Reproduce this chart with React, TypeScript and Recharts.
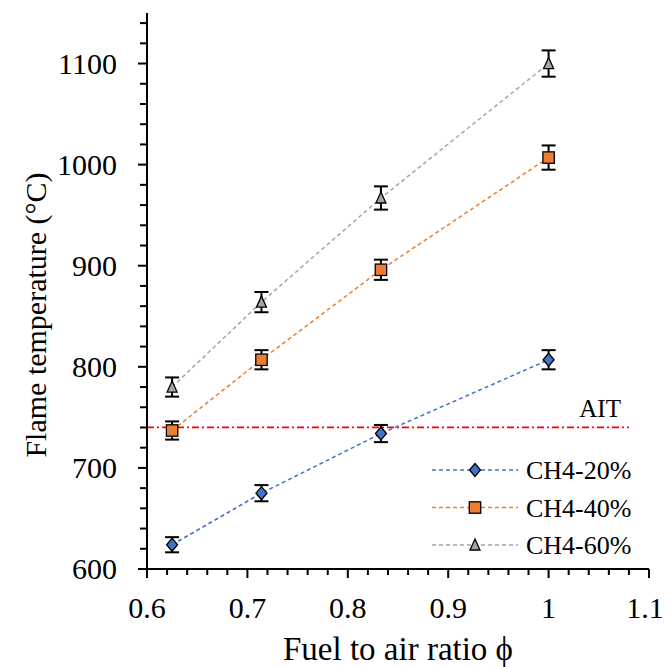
import React from "react";
import {
  ComposedChart,
  Line,
  XAxis,
  YAxis,
  ErrorBar,
  ReferenceLine,
  Legend
} from "recharts";

const FONT = "'Liberation Serif', 'Times New Roman', serif";

// equivalence ratio values on the x axis
const phiValues = [0.625, 0.714, 0.833, 1.0];

const ch4_20 = [624, 675, 734, 807];
const ch4_20Err = [7.5, 8, 8.5, 9.5];
const ch4_40 = [737, 807, 896, 1007];
const ch4_40Err = [9, 9.5, 10, 12];
const ch4_60 = [780, 864, 967, 1100];
const ch4_60Err = [9.5, 10, 11.5, 13];

const aitTemp = 740;
const aitEndPhi = 1.08;

const yMajorTicks = [600, 700, 800, 900, 1000, 1100];
const xMajorTicks = [0.6, 0.7, 0.8, 0.9, 1, 1.1];

const yTicks = Array.from({ length: 28 }, (_, i) => 600 + i * 20);
const xTicks = Array.from({ length: 26 }, (_, i) => Math.round((0.6 + i * 0.02) * 100) / 100);

const data = phiValues.map((phi, i) => ({
  phi,
  s20: ch4_20[i],
  s20e: ch4_20Err[i],
  s40: ch4_40[i],
  s40e: ch4_40Err[i],
  s60: ch4_60[i],
  s60e: ch4_60Err[i]
}));

const series = [
  { key: "s20", err: "s20e", name: "CH4-20%", color: "#4472C4", shape: "diamond" },
  { key: "s40", err: "s40e", name: "CH4-40%", color: "#ED7D31", shape: "square" },
  { key: "s60", err: "s60e", name: "CH4-60%", color: "#A5A5A5", shape: "triangle" }
];

const textStyle = { fontFamily: FONT };

function Marker({ cx, cy, shape, color }: any) {
  if (cx == null || cy == null) return null;
  if (shape === "diamond") {
    const w = 5.5, h = 6.5;
    return (
      <path
        d={`M${cx},${cy - h} L${cx + w},${cy} L${cx},${cy + h} L${cx - w},${cy} Z`}
        fill={color}
        stroke="#000"
        strokeWidth={1.3}
      />
    );
  }
  if (shape === "square") {
    const s = 5.7;
    return <rect x={cx - s} y={cy - s} width={2 * s} height={2 * s} fill={color} stroke="#000" strokeWidth={1.3} />;
  }
  const s = 5;
  return (
    <path
      d={`M${cx},${cy - s - 1} L${cx + s},${cy + s} L${cx - s},${cy + s} Z`}
      fill={color}
      stroke="#000"
      strokeWidth={1.3}
    />
  );
}

function YTick({ x, y, payload }: any) {
  const v = payload.value;
  const major = yMajorTicks.includes(v);
  return (
    <g>
      <line x1={x - (major ? 9 : 7)} x2={x} y1={y} y2={y} stroke="#000" strokeWidth={2} />
      {major && (
        <text x={x - 30} y={y + 10} textAnchor="end" style={textStyle} fontSize={30} fill="#000">
          {v}
        </text>
      )}
    </g>
  );
}

function XTick({ x, y, payload }: any) {
  const v = payload.value;
  const major = xMajorTicks.some((m) => Math.abs(m - v) < 1e-6);
  // keep the last label inside the page
  const tx = Math.min(x, 645);
  return (
    <g>
      <line x1={x} x2={x} y1={y} y2={y + (major ? 9 : 6)} stroke="#000" strokeWidth={2} />
      {major && (
        <text x={tx} y={y + 49} textAnchor="middle" style={textStyle} fontSize={30} fill="#000">
          {String(Number(v.toFixed(2)))}
        </text>
      )}
    </g>
  );
}

function LegendBox() {
  return (
    <svg width={230} height={120}>
      {series.map((s, i) => {
        const cy = 20 + i * 37.5;
        return (
          <g key={s.key}>
            <line x1={7} x2={93} y1={cy} y2={cy} stroke={s.color} strokeWidth={1.5} strokeDasharray="4 3" />
            <Marker cx={50} cy={cy} shape={s.shape} color={s.color} />
            <text x={101} y={cy + 9} style={textStyle} fontSize={26} fill="#000">
              {s.name}
            </text>
          </g>
        );
      })}
    </svg>
  );
}

export default function App() {
  return (
    <div style={{ position: "absolute", left: 0, top: 0, background: "#fff", fontFamily: FONT }}>
      <ComposedChart width={666} height={667} data={data} margin={{ top: 13, right: 17, bottom: 0, left: 0 }}>
        <XAxis
          dataKey="phi"
          type="number"
          domain={[0.6, 1.1]}
          ticks={xTicks}
          interval={0}
          height={98}
          tickSize={0}
          tickMargin={0}
          tick={(p: any) => <XTick {...p} />}
          axisLine={{ stroke: "#000", strokeWidth: 2 }}
          label={{
            content: () => (
              <text x={398} y={660} textAnchor="middle" style={textStyle} fontSize={33} fill="#000">
                Fuel to air ratio ϕ
              </text>
            )
          }}
        />
        <YAxis
          type="number"
          domain={[600, 1150]}
          ticks={yTicks}
          interval={0}
          width={147}
          tickSize={0}
          tickMargin={0}
          tick={(p: any) => <YTick {...p} />}
          axisLine={{ stroke: "#000", strokeWidth: 2 }}
          label={{
            content: () => (
              <text
                x={35}
                y={315}
                transform="rotate(-90 35 315)"
                textAnchor="middle"
                dy="0.35em"
                style={textStyle}
                fontSize={30}
                fill="#000"
              >
                Flame temperature (°C)
              </text>
            )
          }}
        />
        <ReferenceLine
          segment={[
            { x: 0.6, y: aitTemp },
            { x: aitEndPhi, y: aitTemp }
          ]}
          stroke="#FF0000"
          strokeWidth={1.8}
          strokeDasharray="7 3 2 3"
          label={{
            content: ({ viewBox }: any) => (
              <text
                x={viewBox.x + viewBox.width - 8}
                y={viewBox.y - 10}
                textAnchor="end"
                style={textStyle}
                fontSize={25}
                fill="#000"
              >
                AIT
              </text>
            )
          }}
        />
        {series.map((s) => (
          <Line
            key={s.key}
            dataKey={s.key}
            name={s.name}
            type="linear"
            stroke={s.color}
            strokeWidth={1.5}
            strokeDasharray="4 3"
            isAnimationActive={false}
            activeDot={false}
            dot={(p: any) => <Marker key={`${s.key}-${p.index}`} cx={p.cx} cy={p.cy} shape={s.shape} color={s.color} />}
          >
            <ErrorBar dataKey={s.err} direction="y" width={7} stroke="#000" strokeWidth={2} />
          </Line>
        ))}
        <Legend
          layout="vertical"
          align="center"
          verticalAlign="middle"
          wrapperStyle={{ position: "absolute", left: 425, top: 450, width: 230, height: 120 }}
          content={() => <LegendBox />}
        />
      </ComposedChart>
    </div>
  );
}
